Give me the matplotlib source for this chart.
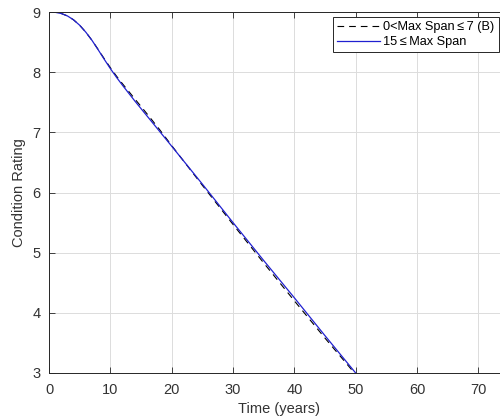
import matplotlib
matplotlib.use("Agg")
import matplotlib.pyplot as plt

plt.rcParams['font.family'] = ['Liberation Sans', 'DejaVu Sans']

# Series data
t_b = [0, 1, 2, 3, 4, 5, 6, 7, 8, 9, 10, 11, 12, 14, 16, 18, 20, 25, 30, 35, 40, 45, 49.8]
r_b = [9.0, 8.995, 8.975, 8.935, 8.87, 8.78, 8.665, 8.53, 8.38, 8.225, 8.075, 7.935, 7.805, 7.555, 7.305, 7.05, 6.78, 6.12, 5.47, 4.83, 4.20, 3.58, 3.0]

t_15 = [0, 1, 2, 3, 4, 5, 6, 7, 8, 9, 10, 11, 12, 14, 16, 18, 20, 25, 30, 35, 40, 45, 50]
r_15 = [9.0, 8.995, 8.975, 8.935, 8.87, 8.78, 8.665, 8.53, 8.375, 8.215, 8.06, 7.915, 7.78, 7.52, 7.27, 7.02, 6.77, 6.14, 5.50, 4.87, 4.25, 3.62, 3.0]

labels = ['0<Max Span\u2009\u2264\u20097 (B)', '15\u2009\u2264\u2009Max Span']
xticks = [0, 10, 20, 30, 40, 50, 60, 70]
yticks = [3, 4, 5, 6, 7, 8, 9]

fig = plt.figure(figsize=(5.0, 4.18), dpi=100)
ax = fig.add_axes([49/500, 45/418, 460/500, 361/418])

ax.plot(t_b, r_b, color='black', linestyle=(0, (6, 4.5)), linewidth=0.8, label=labels[0])
ax.plot(t_15, r_15, color='#2020d0', linestyle='-', linewidth=0.9, label=labels[1])

ax.set_xlim(0, 75)
ax.set_ylim(3, 9)
ax.set_xticks(xticks)
ax.set_yticks(yticks)
ax.grid(True, color='#dcdcdc', linewidth=0.7)
ax.set_axisbelow(True)
ax.tick_params(direction='in', length=4, width=0.6, colors='#262626', labelsize=10.5,
               top=True, right=True, labelcolor='#333333')
ax.tick_params(axis='x', pad=7)
ax.tick_params(axis='y', pad=6)
for s in ax.spines.values():
    s.set_color('#262626')
    s.set_linewidth(0.7)

ax.set_xlabel('Time (years)', fontsize=10.5, color='#333333', labelpad=4)
ax.set_ylabel('Condition Rating', fontsize=10.5, color='#333333', labelpad=5)

leg = ax.legend(loc='upper left', bbox_to_anchor=((333 - 49) / 460, 1 - 5 / 361), fontsize=9.2,
                frameon=True, fancybox=False, edgecolor='#262626', framealpha=1,
                handlelength=3.3, handletextpad=0.3, borderpad=0.35, labelspacing=0.2,
                borderaxespad=0)
leg.get_frame().set_linewidth(0.7)

fig.savefig('out.png', dpi=100)
